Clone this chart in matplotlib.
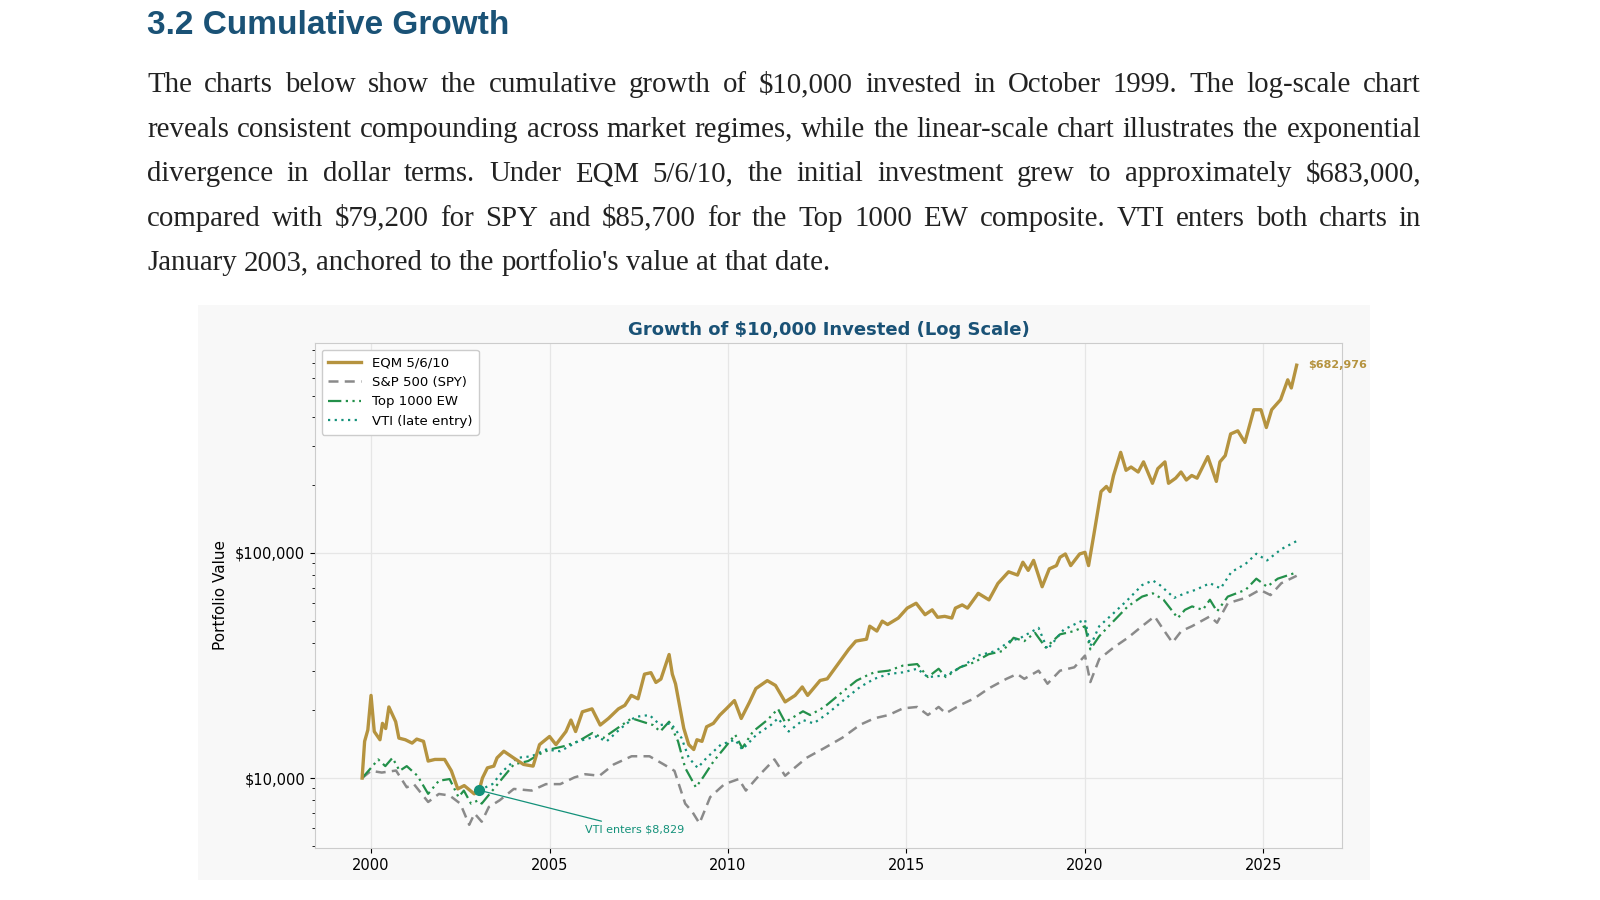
import matplotlib
matplotlib.use('Agg')
import matplotlib.pyplot as plt
import numpy as np

# ---- data (years as decimals) ----
eqm_t = [1999.75, 1999.82, 1999.91, 2000.0, 2000.09, 2000.25, 2000.32, 2000.41, 2000.5, 2000.69, 2000.78,
         2000.96, 2001.15, 2001.28, 2001.47, 2001.6, 2001.79, 2002.06, 2002.25, 2002.43, 2002.61, 2002.89,
         2003.03, 2003.12, 2003.26, 2003.44, 2003.53, 2003.72, 2003.99, 2004.27, 2004.54, 2004.72, 2005.0,
         2005.18, 2005.46, 2005.6, 2005.73, 2005.92, 2006.19, 2006.42, 2006.65, 2006.93, 2007.11, 2007.29,
         2007.48, 2007.66, 2007.84, 2007.98, 2008.12, 2008.35, 2008.44, 2008.53, 2008.76, 2008.9, 2009.04,
         2009.13, 2009.27, 2009.4, 2009.59, 2009.77, 2009.95, 2010.18, 2010.37, 2010.6, 2010.78, 2011.1,
         2011.33, 2011.6, 2011.88, 2012.08, 2012.23, 2012.58, 2012.78, 2013.08, 2013.38, 2013.58, 2013.88,
         2013.97, 2014.17, 2014.32, 2014.47, 2014.77, 2015.02, 2015.27, 2015.52, 2015.72, 2015.87, 2016.07,
         2016.27, 2016.37, 2016.56, 2016.71, 2017.01, 2017.31, 2017.56, 2017.86, 2018.11, 2018.26, 2018.41,
         2018.56, 2018.8, 2019.0, 2019.2, 2019.3, 2019.45, 2019.6, 2019.85, 2020.0, 2020.1, 2020.25, 2020.45,
         2020.6, 2020.7, 2020.8, 2021.0, 2021.15, 2021.29, 2021.49, 2021.64, 2021.89, 2022.04, 2022.24,
         2022.34, 2022.54, 2022.69, 2022.84, 2022.99, 2023.14, 2023.44, 2023.68, 2023.78, 2023.93, 2024.08,
         2024.28, 2024.48, 2024.73, 2024.93, 2025.08, 2025.23, 2025.48, 2025.68, 2025.78, 2025.93]
eqm_v = [10000, 14560, 16360, 23300, 16100, 14800, 17500, 16600, 20700, 17800, 15050,
         14800, 14300, 14900, 14560, 11900, 12100, 12100, 10770, 8950, 9260, 8510,
         8829, 10000, 11100, 11300, 12300, 13160, 12300, 11500, 11300, 14080, 15300,
         14080, 16100, 18100, 16100, 19700, 20300, 17200, 18400, 20300, 21050, 23300,
         22500, 28950, 29400, 26600, 27530, 35400, 28950, 26200, 16650, 14080, 13390,
         14800, 14560, 16900, 17500, 19040, 20300, 22100, 18400, 21700, 24980, 27100,
         25800, 21800, 23300, 25400, 23300, 27140, 27600, 32100, 37300, 40600, 41400,
         47300, 45000, 49800, 48100, 51400, 56900, 59800, 53200, 55900, 51800, 52300,
         51400, 56900, 58800, 56900, 66200, 61900, 73200, 82500, 79800, 91000, 83700,
         92700, 70800, 85000, 87900, 95700, 99000, 87900, 99000, 100700, 87900, 121000, 187500,
         197500, 187500, 221000, 280000, 233000, 241000, 229000, 254000, 204000, 237000, 254000,
         204000, 215000, 229000, 211000, 221000, 215000, 268000, 208000, 254000, 271000, 338000,
         349000, 310000, 433000, 433000, 361000, 433000, 480000, 588000, 541000, 682976]

spy_t = [1999.75, 2000.0, 2000.3, 2000.7, 2001.0, 2001.2, 2001.6, 2001.9, 2002.2, 2002.5, 2002.75, 2002.9,
         2003.1, 2003.3, 2003.6, 2004.0, 2004.5, 2004.9, 2005.3, 2005.7, 2006.0, 2006.4, 2006.8, 2007.3,
         2007.8, 2008.2, 2008.5, 2008.8, 2009.0, 2009.2, 2009.5, 2009.9, 2010.3, 2010.5, 2010.9, 2011.3,
         2011.6, 2012.2, 2012.7, 2013.2, 2013.7, 2014.1, 2014.5, 2014.9, 2015.3, 2015.6, 2015.9, 2016.1,
         2016.5, 2016.9, 2017.3, 2017.8, 2018.1, 2018.3, 2018.7, 2018.95, 2019.3, 2019.7, 2020.0, 2020.15,
         2020.4, 2020.8, 2021.2, 2021.6, 2021.95, 2022.2, 2022.45, 2022.7, 2023.0, 2023.5, 2023.7, 2024.0,
         2024.5, 2024.9, 2025.2, 2025.5, 2025.93]
spy_v = [10000, 10770, 10580, 10800, 9100, 9400, 7830, 8500, 8370, 7700, 6200, 6960,
         6400, 7440, 7960, 8950, 8800, 9400, 9400, 10070, 10400, 10240, 11500, 12500,
         12500, 11500, 10770, 7700, 7080, 6290, 8230, 9400, 9900, 8800, 10400, 12100,
         10240, 12300, 13600, 15100, 17250, 18430, 19060, 20400, 20700, 19060, 20700, 19400,
         21100, 22600, 25000, 27600, 29000, 27600, 30000, 26250, 30000, 31050, 35000, 26700,
         33800, 38000, 42000, 47300, 52300, 45600, 40000, 45000, 47300, 52300, 49000, 59800,
         63200, 68600, 65000, 73400, 79200]

ew_t = [1999.75, 2000.0, 2000.2, 2000.4, 2000.6, 2000.8, 2001.0, 2001.3, 2001.6, 2001.9, 2002.2, 2002.45,
        2002.6, 2002.8, 2003.0, 2003.1, 2003.4, 2003.7, 2004.0, 2004.4, 2004.7, 2005.0, 2005.4, 2005.8,
        2006.2, 2006.5, 2006.9, 2007.3, 2007.6, 2007.9, 2008.1, 2008.35, 2008.6, 2008.8, 2009.1, 2009.3,
        2009.6, 2009.9, 2010.2, 2010.4, 2010.7, 2011.1, 2011.4, 2011.6, 2012.1, 2012.3, 2012.7, 2013.2,
        2013.6, 2013.9, 2014.1, 2014.5, 2014.9, 2015.3, 2015.6, 2015.9, 2016.1, 2016.5, 2016.9, 2017.3,
        2017.7, 2018.0, 2018.3, 2018.6, 2018.9, 2019.3, 2019.7, 2020.0, 2020.15, 2020.4, 2020.8, 2021.2,
        2021.6, 2021.9, 2022.2, 2022.6, 2022.8, 2023.0, 2023.3, 2023.5, 2023.7, 2024.0, 2024.5, 2024.8,
        2025.1, 2025.4, 2025.93]
ew_v = [10000, 11100, 12100, 11300, 12300, 10770, 11300, 10240, 8510, 9730, 9900, 8230,
        8800, 7700, 7960, 7700, 8800, 10070, 11500, 11900, 12730, 13390, 13850, 14560,
        15850, 15050, 16650, 18430, 17800, 17200, 16100, 17800, 14560, 11100, 9100, 10070,
        11900, 13600, 15600, 13600, 16100, 18100, 20300, 17700, 19800, 19060, 20700, 24100,
        27100, 28600, 29500, 30000, 31600, 32100, 28100, 30600, 28100, 31050, 32700, 35500,
        36700, 42000, 40600, 44200, 38000, 43500, 45000, 47300, 37300, 42700, 49800, 57900,
        64000, 66200, 62000, 51400, 55900, 57900, 55900, 62000, 55000, 64000, 68600, 76900,
        70800, 76900, 82000]

vti_t = [2003.03, 2003.4, 2003.7, 2004.1, 2004.5, 2004.9, 2005.3, 2005.8, 2006.3, 2006.6, 2007.0, 2007.4,
         2007.8, 2008.1, 2008.4, 2008.7, 2008.9, 2009.15, 2009.4, 2009.8, 2010.2, 2010.4, 2010.8, 2011.2,
         2011.4, 2011.7, 2012.1, 2012.4, 2012.8, 2013.3, 2013.7, 2014.1, 2014.5, 2014.9, 2015.3, 2015.6,
         2016.1, 2016.6, 2017.0, 2017.5, 2017.9, 2018.2, 2018.7, 2018.95, 2019.4, 2019.8, 2020.0, 2020.15,
         2020.4, 2020.8, 2021.2, 2021.6, 2021.9, 2022.1, 2022.5, 2022.8, 2023.1, 2023.5, 2023.8, 2024.1,
         2024.5, 2024.8, 2025.1, 2025.5, 2025.93]
vti_v = [8829, 9400, 10770, 12300, 12500, 13390, 13160, 14560, 15300, 14560, 16650, 18700,
         19060, 17200, 17500, 15050, 12300, 11100, 12300, 14080, 14800, 13390, 15600, 17200,
         18430, 16100, 18100, 17500, 19400, 22600, 25400, 27600, 29000, 29500, 30600, 28100,
         28600, 31600, 35000, 36700, 40600, 42000, 46500, 37300, 45600, 49000, 50600, 38600,
         47300, 54000, 62000, 72000, 75500, 72000, 63200, 66200, 68600, 73400, 69600, 82300,
         89500, 99200, 92700, 104000, 113000]

heading = "3.2 Cumulative Growth"
para_lines = [
    "The charts below show the cumulative growth of $10,000 invested in October 1999. The log-scale chart",
    "reveals consistent compounding across market regimes, while the linear-scale chart illustrates the exponential",
    "divergence in dollar terms. Under EQM 5/6/10, the initial investment grew to approximately $683,000,",
    "compared with $79,200 for SPY and $85,700 for the Top 1000 EW composite. VTI enters both charts in",
    "January 2003, anchored to the portfolio's value at that date.",
]

GOLD = '#b5933f'
GREY = '#8a8a8a'
GREEN = '#23904a'
TEAL = '#13917a'
NAVY = '#1a5276'
PFS = 20.8

W, H = 1600, 900
fig = plt.figure(figsize=(16, 9), dpi=100)
fig.patch.set_facecolor('white')

fig.text(147 / W, 1 - 25 / H, heading, fontsize=24, fontweight='bold', color=NAVY,
         family='Liberation Sans', va='center', ha='left')

# justified paragraph, word by word
renderer = fig.canvas.get_renderer()
left, right = 147, 1421
for i, line in enumerate(para_lines):
    y = 1 - (85 + i * 44.5) / H
    words = line.split(' ')
    texts = [fig.text(0, y, w, fontsize=PFS, family='Liberation Serif', color='#222222', va='center')
             for w in words]
    widths = [t.get_window_extent(renderer).width for t in texts]
    if i == len(para_lines) - 1:
        sp = PFS * 0.25 * 100 / 72
    else:
        sp = (right - left - sum(widths)) / (len(words) - 1)
    x = left
    for t, w in zip(texts, widths):
        t.set_x(x / W)
        x += w + sp

# chart panel
panel = plt.Rectangle((198 / W, 20 / H), (1370 - 198) / W, (880 - 305) / H, transform=fig.transFigure,
                      facecolor='#f8f8f8', edgecolor='none', zorder=-5)
fig.patches.append(panel)

ax = fig.add_axes([315 / W, 1 - 848 / H, (1342 - 315) / W, (848 - 343) / H])
ax.set_zorder(2)
ax.set_facecolor('#fafafa')
ax.set_yscale('log')
ax.plot(eqm_t, eqm_v, color=GOLD, lw=2.4, label='EQM 5/6/10', zorder=4)
ax.plot(spy_t, spy_v, color=GREY, lw=1.8, ls=(0, (4, 2.5)), label='S&P 500 (SPY)', zorder=3)
ax.plot(ew_t, ew_v, color=GREEN, lw=1.6, ls=(0, (6, 2, 1, 2, 1, 2)), label='Top 1000 EW', zorder=3)
ax.plot(vti_t, vti_v, color=TEAL, lw=1.6, ls=(0, (1, 2)), label='VTI (late entry)', zorder=3)
ax.plot([vti_t[0]], [vti_v[0]], 'o', color=TEAL, ms=7, zorder=5)

ax.annotate('VTI enters $8,829', xy=(vti_t[0], vti_v[0]), xytext=(2006.0, 5900),
            fontsize=8, color=TEAL, ha='left', va='center',
            arrowprops=dict(arrowstyle='-', color=TEAL, lw=0.9))
ax.annotate('$682,976', xy=(eqm_t[-1], eqm_v[-1]), xytext=(8, 0), textcoords='offset points',
            fontsize=8, color=GOLD, fontweight='bold', va='center')

ax.set_xlim(1998.43, 2027.2)
ax.set_ylim(4890, 857000)
ax.set_xticks([2000, 2005, 2010, 2015, 2020, 2025])
ax.set_yticks([10000, 100000])
ax.set_yticklabels(['$10,000', '$100,000'])
ax.tick_params(labelsize=10.5)
ax.tick_params(axis='y', which='minor', labelleft=False)
ax.grid(True, which='major', color='#e6e6e6', lw=0.9)
for s in ax.spines.values():
    s.set_color('#cccccc')
ax.set_ylabel('Portfolio Value', fontsize=11)
ax.yaxis.set_label_coords(-0.085, 0.5)
ax.set_title('Growth of $10,000 Invested (Log Scale)', fontsize=13, fontweight='bold', color=NAVY, pad=6)
ax.legend(loc='upper left', fontsize=9.5, frameon=True, framealpha=1, edgecolor='#cccccc',
          handlelength=2.5, borderpad=0.5)

fig.savefig('out.png', dpi=100)
